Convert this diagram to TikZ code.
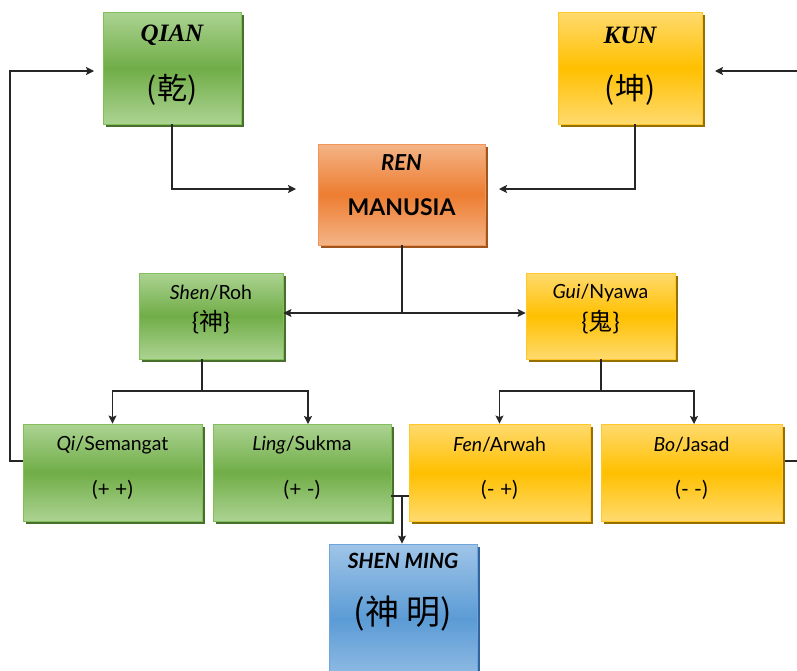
\documentclass[tikz,border=0pt]{standalone}
\usepackage{fontspec}
\setsansfont{Lato}
\newfontfamily\cjk{Noto Sans CJK SC}
\newfontfamily\headserif{Liberation Serif}
\usetikzlibrary{arrows.meta,shadows}

% colour sets: light edge of the gradient, middle band, outline, shadow
\definecolor{gLight}{RGB}{172,211,146}
\definecolor{gMid}{RGB}{112,173,71}
\definecolor{gEdge}{RGB}{130,190,90}
\definecolor{gDark}{RGB}{72,112,44}
\definecolor{oLight}{RGB}{244,180,135}
\definecolor{oMid}{RGB}{237,125,49}
\definecolor{oEdge}{RGB}{240,150,90}
\definecolor{oDark}{RGB}{160,85,30}
\definecolor{yLight}{RGB}{255,218,110}
\definecolor{yMid}{RGB}{255,192,0}
\definecolor{yEdge}{RGB}{255,200,40}
\definecolor{yDark}{RGB}{150,112,0}
\definecolor{bLight}{RGB}{160,197,232}
\definecolor{bMid}{RGB}{91,155,213}
\definecolor{bEdge}{RGB}{110,165,220}
\definecolor{bDark}{RGB}{50,100,160}

\tikzset{
  box/.style={rectangle, draw=#1Edge, line width=0.9pt,
    top color=#1Light, bottom color=#1Light, middle color=#1Mid,
    general shadow={fill=#1Dark, shadow xshift=3pt, shadow yshift=-3pt},
    inner sep=0pt},
  ln/.style={line width=1.1pt, draw=black!85},
  arr/.style={ln, -{Stealth[length=8pt,width=8pt,inset=1.5pt]}},
  head/.style={font=\headserif\bfseries\itshape\fontsize{25}{28}\selectfont},
  hanzi/.style={font=\cjk\fontsize{30}{34}\selectfont},
  lbl/.style={font=\sffamily\fontsize{19.5}{22}\selectfont},
  brace/.style={font=\sffamily\fontsize{24}{28}\selectfont},
  sign/.style={font=\sffamily\fontsize{21}{24}\selectfont},
}

\begin{document}
\begin{tikzpicture}[x=1pt,y=-1pt]
\useasboundingbox (0,0) rectangle (797,670);
\clip (0,0) rectangle (797,670);

% boxes
\node[box=g, minimum width=138pt, minimum height=112pt] (QIAN) at (172,68) {};
\node[box=y, minimum width=144pt, minimum height=112pt] (KUN) at (630,68) {};
\node[box=o, minimum width=167pt, minimum height=101pt] (REN) at (401.5,194.5) {};
\node[box=g, minimum width=144pt, minimum height=86pt] (Shen) at (211,316) {};
\node[box=y, minimum width=149pt, minimum height=86pt] (Gui) at (600.5,316) {};
\node[box=g, minimum width=179pt, minimum height=97pt] (Qi) at (112.5,472.5) {};
\node[box=g, minimum width=178pt, minimum height=97pt] (Ling) at (302,472.5) {};
\node[box=y, minimum width=181pt, minimum height=97pt] (Fen) at (499.5,472.5) {};
\node[box=y, minimum width=181pt, minimum height=97pt] (Bo) at (691.5,472.5) {};
\node[box=b, minimum width=148pt, minimum height=150pt] (SM) at (403,619) {};

% texts
\node[head] (qianT) at (172,35) {QIAN};
\node[hanzi] (qianH) at (172,90) {(乾)};
\node[head] (kunT) at (630,35) {KUN};
\node[hanzi] (kunH) at (630,90) {(坤)};
\node[font=\sffamily\bfseries\itshape\fontsize{22}{24}\selectfont] (renT) at (401.5,163) {REN};
\node[font=\sffamily\bfseries\fontsize{23}{26}\selectfont] (renM) at (401.5,207) {MANUSIA};
\node[lbl] (shenT) at (211,293) {\itshape Shen\upshape/Roh};
\node[brace] (shenH) at (211,322) {\{{\cjk 神}\}};
\node[lbl] (guiT) at (600.5,293) {\itshape Gui\upshape/Nyawa};
\node[brace] (guiH) at (600.5,322) {\{{\cjk 鬼}\}};
\node[lbl] (qiT) at (112.5,445) {\itshape Qi\upshape/Semangat};
\node[sign] (qiS) at (112.5,490) {(+ +)};
\node[lbl] (lingT) at (302,445) {\itshape Ling\upshape/Sukma};
\node[sign] (lingS) at (302,490) {(+ -)};
\node[lbl] (fenT) at (499.5,445) {\itshape Fen\upshape/Arwah};
\node[sign] (fenS) at (499.5,490) {(- +)};
\node[lbl] (boT) at (691.5,445) {\itshape Bo\upshape/Jasad};
\node[sign] (boS) at (691.5,490) {(- -)};
\node[font=\sffamily\bfseries\itshape\fontsize{21}{24}\selectfont] (smT) at (403,561) {SHEN MING};
\node[font=\cjk\fontsize{34}{38}\selectfont] (smH) at (403,614) {(神 明)};

% junction points of the connectors
\coordinate (renInL) at (296,189);
\coordinate (renInR) at (499,189);
\coordinate (kunOut) at (635,124);
\coordinate (kunIn) at (715,71);
\coordinate (rightEdge) at (797,71);
\coordinate (renJ) at (402,313);
\coordinate (shJ) at (202,391);
\coordinate (guJ) at (601,391);
\coordinate (lingIn) at (308,424);
\coordinate (boIn) at (694,424);
\coordinate (loopA) at (10,461);
\coordinate (qianIn) at (94,71);
\coordinate (boR) at (785,461);
\coordinate (boOut) at (797,461);
\coordinate (smJ) at (402,496);

% connectors
\draw[arr] (QIAN.south) |- (renInL);
\draw[arr] (kunOut) |- (renInR);
\draw[arr] (rightEdge) -- (kunIn);
\draw[ln] (REN.south -| renJ) -- (renJ);
\draw[arr] (renJ) -- (Shen.east |- renJ);
\draw[arr] (renJ) -- (Gui.west |- renJ);
\draw[ln] (Shen.south -| shJ) -- (shJ);
\draw[arr] (shJ) -| (Qi.north);
\draw[arr] (shJ) -| (lingIn);
\draw[ln] (Gui.south -| guJ) -- (guJ);
\draw[arr] (guJ) -| (Fen.north);
\draw[arr] (guJ) -| (boIn);
\draw[arr] (Qi.west |- loopA) -- (loopA) |- (qianIn);
\draw[ln] (boR) -- (boOut);
\draw[ln] (Ling.east |- smJ) -- (Fen.west |- smJ);
\draw[arr] (smJ) -- (SM.north -| smJ);
\end{tikzpicture}
\end{document}
